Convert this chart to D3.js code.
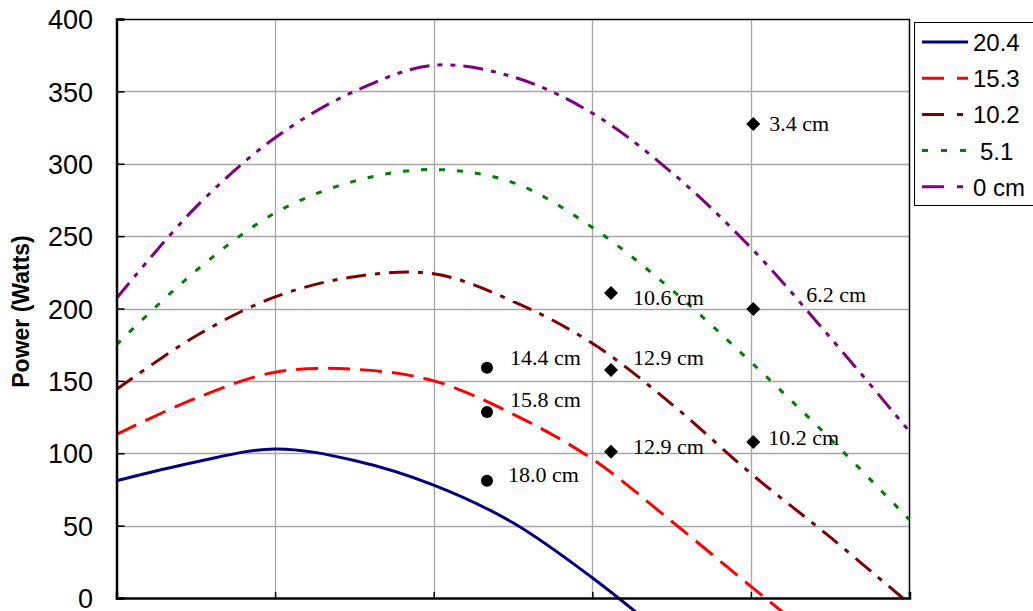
<!DOCTYPE html>
<html>
<head>
<meta charset="utf-8">
<script src="https://cdn.jsdelivr.net/npm/d3@7"></script>
<style>
  html, body { margin: 0; padding: 0; background: #fff; }
  svg { display: block; }
</style>
</head>
<body>
<div id="chart"></div>
<script>
// ---- data ----
const xValues = [0, 0.5, 1, 1.5, 2, 2.5, 3, 3.5, 4, 4.5, 5];
const seriesNames = ["20.4", "15.3", "10.2", " 5.1", "0 cm"];
const s204 = [81, 94, 103, 95, 78, 52, 14, -30, null, null, null];
const s153 = [113, 138, 156, 158, 150, 127, 96, 53, 8, -36, -80];
const s102 = [144, 181, 208, 222, 224, 205, 176, 134, 86, 42, -4];
const s51  = [175, 226, 266, 288, 296, 287, 256, 213, 163, 110, 54];
const s0   = [207, 270, 318, 350, 368, 360, 335, 294, 242, 180, 115];
const yTicks = [0, 50, 100, 150, 200, 250, 300, 350, 400];
const xGrid = [0, 1, 2, 3, 4, 5];

const markerX = [2.336, 2.336, 2.336, 3.118, 3.118, 3.118, 4.015, 4.015, 4.015];
const markerY = [159, 128.5, 81, 210.7, 157.5, 101, 327.5, 199.7, 107.8];
const markerShape = ["circle", "circle", "circle", "diamond", "diamond", "diamond", "diamond", "diamond", "diamond"];
const markerLabels = ["14.4 cm", "15.8 cm", "18.0 cm", "10.6 cm", "12.9 cm", "12.9 cm", "3.4 cm", "6.2 cm", "10.2 cm"];
const labelDx = [23, 23, 21, 22, 22, 22, 16, 53, 15];
const labelDy = [-3, -5, 1, 12, -5, 2, 7, -7, 3];

// ---- styles ----
const seriesData = [s204, s153, s102, s51, s0];
const colors = ["#000080", "#FF0000", "#800000", "#008000", "#800080"];
const dashes = [null, "22,10", "20,9,5,9", "6,12", "20,8,5,8,5,8"];
const legendDashes = [null, "22,13", "22,13,6,20", "6,13", "22,13,6,20"];

const W = 1033, H = 611;
const x = d3.scaleLinear().domain([0, 5]).range([116.5, 909.5]);
const y = d3.scaleLinear().domain([0, 400]).range([598, 19]);

const svg = d3.select("#chart").append("svg")
  .attr("width", W).attr("height", H);

// gridlines
svg.append("g").selectAll("line.h")
  .data(yTicks.filter(d => d > 0 && d < 400))
  .enter().append("line")
  .attr("x1", x(0)).attr("x2", x(5))
  .attr("y1", d => Math.round(y(d)) + 0.5).attr("y2", d => Math.round(y(d)) + 0.5)
  .attr("stroke", "#a6a6a6").attr("stroke-width", 1.3);
svg.append("g").selectAll("line.v")
  .data(xGrid.filter(d => d > 0 && d < 5))
  .enter().append("line")
  .attr("y1", y(400)).attr("y2", y(0))
  .attr("x1", d => Math.round(x(d)) + 0.5).attr("x2", d => Math.round(x(d)) + 0.5)
  .attr("stroke", "#a6a6a6").attr("stroke-width", 1.3);

// plot border (top, right)
svg.append("path")
  .attr("d", `M${x(0)},${y(400)+0.5}H${x(5)}V${y(0)}`)
  .attr("fill", "none").attr("stroke", "#000").attr("stroke-width", 1.5);

// series lines
svg.append("clipPath").attr("id", "clip")
  .append("rect").attr("x", x(0)).attr("y", 0).attr("width", x(5) - x(0)).attr("height", H);

const line = d3.line()
  .defined(d => d[1] !== null)
  .x(d => x(d[0])).y(d => y(d[1]))
  .curve(d3.curveCatmullRom.alpha(0.5));

const gLines = svg.append("g").attr("clip-path", "url(#clip)");
seriesData.forEach((vals, i) => {
  const pts = xValues.map((xv, j) => [xv, vals[j]]);
  gLines.append("path")
    .attr("d", line(pts))
    .attr("fill", "none")
    .attr("stroke", colors[i])
    .attr("stroke-width", 3)
    .attr("stroke-dasharray", dashes[i]);
});

// axes
const yAxis = d3.axisLeft(y).tickValues(yTicks).tickSize(-8).tickPadding(0).tickFormat(d3.format("d"));
const gy = svg.append("g").attr("transform", `translate(${x(0)},0)`).call(yAxis);
gy.select(".domain").attr("stroke", "#000").attr("stroke-width", 2.5);
gy.selectAll(".tick line").attr("stroke", "#000").attr("stroke-width", 1.5);
gy.selectAll(".tick text")
  .attr("x", -23.5)
  .attr("dy", "0.36em")
  .attr("font-family", "Liberation Sans, Arial, sans-serif")
  .attr("font-size", 27)
  .attr("fill", "#000");

const xAxis = d3.axisBottom(x).tickValues(xGrid).tickSize(-6).tickFormat("");
const gx = svg.append("g").attr("transform", `translate(0,${y(0)})`).call(xAxis);
gx.select(".domain").attr("stroke", "#000").attr("stroke-width", 2.5);
gx.selectAll(".tick line").attr("stroke", "#000").attr("stroke-width", 1.5);

// axis title
svg.append("text")
  .attr("transform", `translate(29,${(y(0) + y(400)) / 2 + 3}) rotate(-90)`)
  .attr("text-anchor", "middle")
  .attr("font-family", "Liberation Sans, Arial, sans-serif")
  .attr("font-weight", "bold")
  .attr("font-size", 23)
  .text("Power (Watts)");

// markers
const gM = svg.append("g");
markerX.forEach((mx, i) => {
  const cx = x(mx), cy = y(markerY[i]);
  if (markerShape[i] === "circle") {
    gM.append("circle").attr("cx", cx).attr("cy", cy).attr("r", 6).attr("fill", "#000");
  } else {
    gM.append("path")
      .attr("d", `M${cx},${cy - 7}L${cx + 7},${cy}L${cx},${cy + 7}L${cx - 7},${cy}Z`)
      .attr("fill", "#000");
  }
  gM.append("text")
    .attr("x", cx + labelDx[i]).attr("y", cy + labelDy[i])
    .attr("font-family", "Liberation Serif, Times New Roman, serif")
    .attr("font-size", 22)
    .attr("fill", "#000")
    .text(markerLabels[i]);
});

// legend
const lg = svg.append("g");
lg.append("rect")
  .attr("x", 914.5).attr("y", 22.5).attr("width", 140).attr("height", 183)
  .attr("fill", "#fff").attr("stroke", "#000").attr("stroke-width", 1);
seriesNames.forEach((name, i) => {
  const cy = 42 + i * 36.2;
  lg.append("line")
    .attr("x1", 922).attr("x2", 968).attr("y1", cy).attr("y2", cy)
    .attr("stroke", colors[i]).attr("stroke-width", 3)
    .attr("stroke-dasharray", legendDashes[i]);
  lg.append("text")
    .attr("x", name.startsWith(" ") ? 980 : 973).attr("y", cy + 9)
    .attr("font-family", "Liberation Sans, Arial, sans-serif")
    .attr("font-size", 24)
    .text(name.trim());
});
</script>
</body>
</html>
